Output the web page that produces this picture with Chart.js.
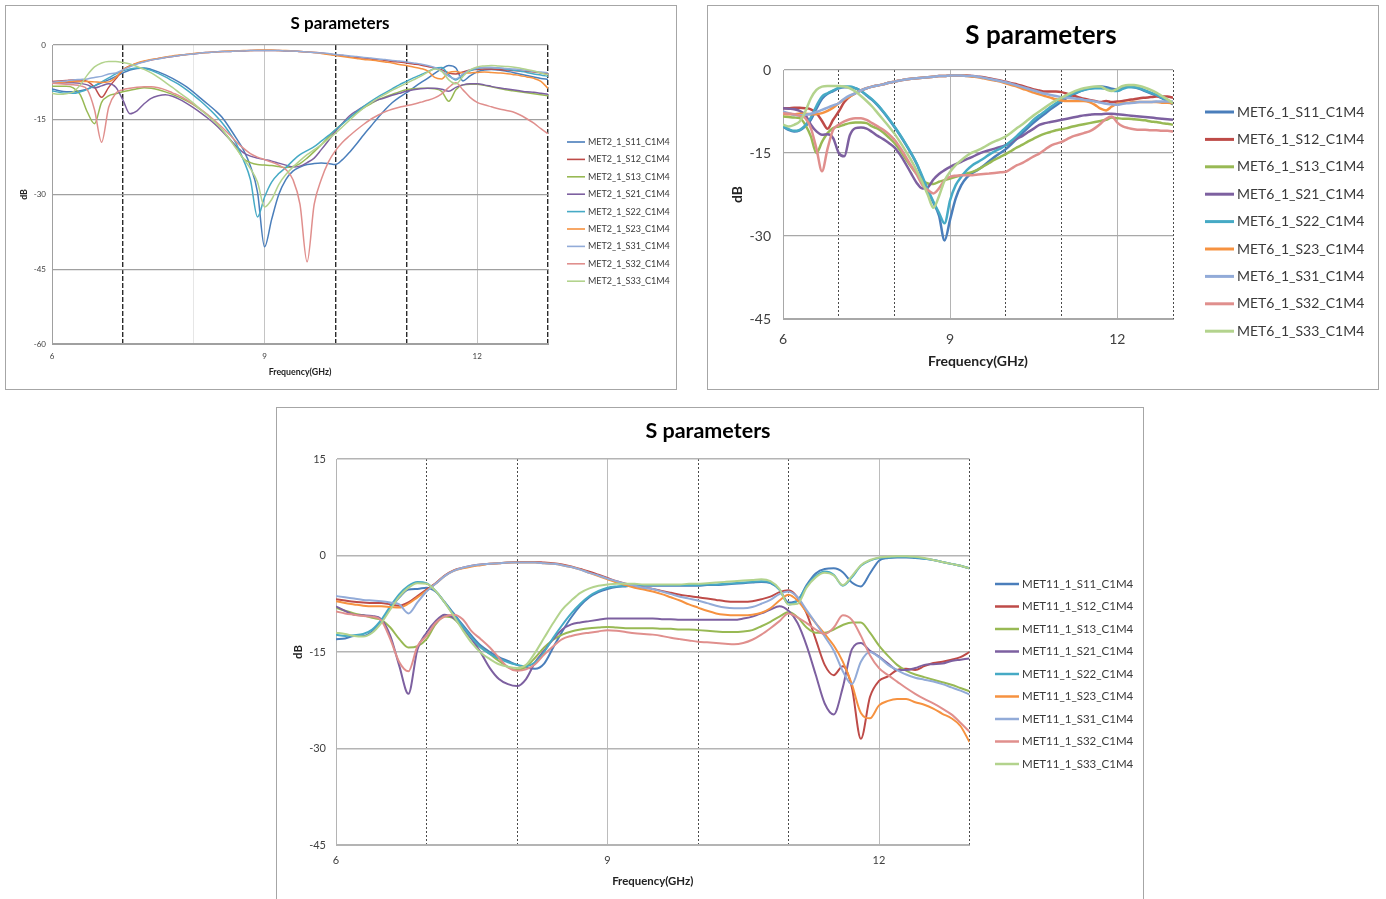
<!DOCTYPE html>
<html>
<head>
<meta charset="utf-8">
<title>S parameters</title>
<script src="https://cdn.jsdelivr.net/npm/chart.js@4.4.1/dist/chart.umd.min.js"></script>
<style>
  body { margin: 0; background: #fff; }
  .panel { position: absolute; border: 1px solid #a6a6a6; background: #fff; }
  .panel canvas { position: absolute; left: 0; top: 0; }
</style>
</head>
<body>
<div class="panel" style="left:5px; top:5px; width:670px; height:383px;"><canvas id="met2" width="670" height="383"></canvas></div>
<div class="panel" style="left:707px; top:5px; width:670px; height:383px;"><canvas id="met6" width="670" height="383"></canvas></div>
<div class="panel" style="left:276px; top:407px; width:866px; height:492px;"><canvas id="met11" width="866" height="492"></canvas></div>
<script>
// Frequency points (GHz), shared by all measurements
const freqGHz = [
  6.0, 6.1, 6.2, 6.3, 6.4, 6.5, 6.6, 6.7, 6.8, 6.9,
  7.0, 7.1, 7.2, 7.3, 7.4, 7.5, 7.6, 7.7, 7.8, 7.9,
  8.0, 8.1, 8.2, 8.3, 8.4, 8.5, 8.6, 8.7, 8.8, 8.9,
  9.0, 9.1, 9.2, 9.3, 9.4, 9.5, 9.6, 9.7, 9.8, 9.9,
  10.0, 10.1, 10.2, 10.3, 10.4, 10.5, 10.6, 10.7, 10.8, 10.9,
  11.0, 11.1, 11.2, 11.3, 11.4, 11.5, 11.6, 11.7, 11.8, 11.9,
  12.0, 12.1, 12.2, 12.3, 12.4, 12.5, 12.6, 12.7, 12.8, 12.9,
  13.0
];

const sParams = ['S11', 'S12', 'S13', 'S21', 'S22', 'S23', 'S31', 'S32', 'S33'];
const xTickLabels = [6, 9, 12];

// ---- MET2 (dB) ----
const met2S11 = [
  -8.8, -9.2, -9.4, -9.4, -9.2, -8.8, -8.2, -7.6, -7.0, -6.3,
  -5.6, -5.0, -4.7, -4.6, -4.9, -5.4, -6.0, -6.7, -7.5, -8.4,
  -9.5, -10.7, -11.9, -13.1, -14.5, -16.5, -18.7, -21.0, -24.3, -29.5,
  -40.5, -35.0, -30.0, -27.0, -25.3, -24.5, -24.0, -23.8, -23.7, -23.8,
  -24.0, -23.0, -21.5, -19.8, -18.0, -16.3, -14.6, -13.0, -11.6, -10.5,
  -9.6, -8.6, -7.6, -6.7, -5.7, -4.8, -4.1, -4.6, -7.2, -6.2,
  -5.4, -5.0, -4.9, -5.0, -5.2, -5.5, -5.8, -6.1, -6.4, -6.7,
  -6.9
];
const met2S12 = [
  -7.3, -7.2, -7.1, -7.0, -7.0, -7.3, -8.5, -10.5, -8.5, -6.8,
  -5.0, -4.2, -3.7, -3.3, -3.0, -2.7, -2.5, -2.3, -2.1, -1.9,
  -1.8, -1.6, -1.5, -1.4, -1.3, -1.3, -1.2, -1.2, -1.1, -1.1,
  -1.1, -1.1, -1.1, -1.2, -1.2, -1.3, -1.4, -1.5, -1.6, -1.8,
  -2.0, -2.1, -2.3, -2.5, -2.6, -2.8, -2.9, -3.1, -3.3, -3.4,
  -3.6, -3.8, -4.0, -4.3, -4.6, -5.0, -5.6, -5.8, -5.4, -5.0,
  -4.9, -4.8, -4.8, -4.9, -5.0, -5.1, -5.2, -5.3, -5.4, -5.6,
  -5.8
];
const met2S13 = [
  -8.3, -8.3, -8.3, -8.6, -10.0, -13.5, -15.8, -11.5, -10.2, -9.8,
  -9.4, -9.1, -8.8, -8.6, -8.7, -9.0, -9.4, -9.9, -10.5, -11.2,
  -12.0, -13.0, -14.1, -15.4, -17.0, -18.7, -20.6, -22.8, -23.6, -24.0,
  -24.1, -24.2, -24.4, -24.6, -24.4, -23.8, -22.7, -21.4, -20.0, -18.5,
  -17.0, -15.8, -14.6, -13.5, -12.6, -11.8, -11.0, -10.4, -9.9, -9.4,
  -9.0, -8.8, -8.7, -8.7, -8.8, -9.3, -11.3, -9.0, -8.0, -7.9,
  -7.9, -8.1, -8.4, -8.7, -9.0, -9.2, -9.4, -9.6, -9.8, -10.0,
  -10.2
];
const met2S21 = [
  -7.7, -7.7, -7.6, -7.6, -7.7, -8.0, -8.6, -8.2, -7.8, -8.5,
  -11.0, -13.8, -13.2, -11.8, -10.7, -10.2, -10.0, -10.3, -10.9, -11.7,
  -12.6, -13.6, -14.7, -15.9, -17.3, -18.8, -20.3, -21.6, -22.3, -22.7,
  -23.0, -23.3, -23.7, -24.1, -24.5, -24.3, -23.6, -22.7, -21.0, -19.2,
  -17.3, -15.7, -14.2, -13.2, -12.3, -11.6, -11.0, -10.6, -10.1, -9.7,
  -9.3, -9.0, -8.8, -8.7, -8.7, -8.9, -9.3, -8.5, -8.0, -7.8,
  -7.8, -8.0, -8.3, -8.6, -8.8, -9.0, -9.2, -9.4, -9.5, -9.7,
  -9.9
];
const met2S22 = [
  -9.2, -9.5, -9.7, -9.7, -9.4, -8.9, -8.2, -7.4, -6.6, -5.8,
  -5.2, -4.8, -4.6, -4.7, -5.1, -5.7, -6.4, -7.2, -8.0, -9.0,
  -10.1, -11.3, -12.6, -14.0, -15.6, -17.5, -19.8, -23.0, -27.0, -34.5,
  -30.5, -27.5, -25.8, -24.6, -23.2, -22.0, -21.2, -20.4, -19.3, -18.2,
  -17.0, -15.8, -14.6, -13.4, -12.3, -11.3, -10.4, -9.6, -8.8, -8.0,
  -7.3, -6.6, -6.0, -5.4, -4.7, -4.5, -6.0, -7.0, -6.0, -5.2,
  -4.7, -4.5, -4.5, -4.6, -4.8, -5.0, -5.2, -5.5, -5.8, -6.0,
  -6.3
];
const met2S23 = [
  -7.6, -7.5, -7.4, -7.3, -7.3, -7.3, -7.4, -7.5, -7.4, -6.5,
  -5.0, -4.2, -3.6, -3.2, -2.9, -2.7, -2.4, -2.2, -2.0, -1.9,
  -1.7, -1.6, -1.5, -1.4, -1.3, -1.2, -1.2, -1.1, -1.1, -1.0,
  -1.0, -1.0, -1.1, -1.1, -1.2, -1.3, -1.4, -1.5, -1.7, -1.9,
  -2.1, -2.3, -2.5, -2.7, -2.9, -3.0, -3.2, -3.4, -3.6, -3.9,
  -4.1, -4.4, -4.7, -5.2, -6.5, -6.8, -5.5, -5.3, -5.6, -5.6,
  -5.5, -5.4, -5.5, -5.6, -5.7, -5.9, -6.1, -6.4, -6.7, -7.3,
  -8.7
];
const met2S31 = [
  -7.5, -7.3, -7.2, -7.0, -6.9, -6.8, -6.5, -6.3, -5.8, -5.6,
  -5.0, -4.4, -3.8, -3.4, -3.0, -2.8, -2.5, -2.3, -2.1, -1.9,
  -1.8, -1.6, -1.5, -1.4, -1.3, -1.3, -1.2, -1.2, -1.1, -1.1,
  -1.1, -1.1, -1.1, -1.2, -1.2, -1.3, -1.4, -1.5, -1.6, -1.7,
  -1.9, -2.0, -2.2, -2.3, -2.5, -2.6, -2.8, -2.9, -3.1, -3.2,
  -3.4, -3.6, -3.8, -4.1, -4.5, -5.2, -6.3, -6.8, -5.8, -5.0,
  -4.6, -4.5, -4.5, -4.6, -4.7, -4.8, -4.9, -5.1, -5.3, -5.4,
  -5.6
];
const met2S32 = [
  -7.7, -7.8, -7.9, -8.0, -8.2, -9.0, -13.0, -19.5, -12.5, -9.7,
  -9.0, -8.7, -8.5, -8.4, -8.4, -8.6, -9.0, -9.6, -10.2, -11.0,
  -11.9, -12.9, -14.0, -15.2, -16.5, -17.9, -19.4, -20.7, -21.8, -22.5,
  -23.0, -23.5, -24.1, -25.0, -27.0, -32.0, -43.5, -32.0, -27.0, -23.5,
  -21.2, -19.5, -18.2, -17.0, -15.9, -14.9, -14.1, -13.4, -12.9, -12.5,
  -12.2, -11.9, -11.5, -11.1, -10.6, -9.8, -8.5, -7.6, -9.0, -10.5,
  -11.5, -12.0, -12.4, -12.8, -13.1, -13.4, -14.0, -14.8, -15.7, -16.8,
  -17.8
];
const met2S33 = [
  -9.7, -9.9, -9.8, -9.4, -8.0, -6.0, -4.4, -3.6, -3.3, -3.3,
  -3.5, -3.8, -4.3, -4.9, -5.6, -6.5, -7.5, -8.5, -9.6, -10.6,
  -11.7, -13.0, -14.2, -15.5, -17.0, -18.8, -20.8, -22.8, -24.8, -27.5,
  -32.5, -31.0, -28.0, -26.0, -24.5, -23.2, -22.0, -21.0, -20.0, -18.9,
  -17.7, -16.4, -15.1, -13.8, -12.6, -11.6, -10.7, -9.9, -9.1, -8.4,
  -7.7, -7.0, -6.3, -5.5, -4.8, -5.3, -7.0, -7.8, -6.3, -5.0,
  -4.4, -4.2, -4.1, -4.2, -4.3, -4.4, -4.6, -4.9, -5.2, -5.6,
  -6.0
];

// ---- MET6 (dB) ----
const met6S11 = [
  -10.2, -10.8, -11.1, -10.9, -10.2, -9.0, -7.0, -5.2, -4.3, -3.8,
  -3.3, -3.1, -3.1, -3.3, -3.8, -4.6, -5.4, -6.4, -7.6, -8.9,
  -10.3, -11.8, -13.4, -15.1, -17.0, -19.5, -22.0, -24.0, -26.3, -30.8,
  -27.0, -23.2, -20.8, -19.4, -18.6, -18.0, -17.3, -16.5, -15.7, -15.0,
  -14.3, -13.4, -12.4, -11.4, -10.4, -9.5, -8.7, -7.9, -7.1, -6.4,
  -5.7, -5.0, -4.5, -4.0, -3.6, -3.3, -3.1, -3.0, -3.1, -3.4,
  -3.5, -3.2, -3.0, -3.1, -3.4, -3.8, -4.2, -4.6, -5.1, -5.6,
  -6.2
];
const met6S12 = [
  -6.9, -6.9, -6.8, -6.8, -6.9, -7.1, -7.8, -9.2, -10.6, -9.0,
  -7.5, -5.8, -4.8, -4.2, -3.7, -3.3, -3.0, -2.8, -2.6, -2.3,
  -2.1, -1.9, -1.7, -1.6, -1.5, -1.4, -1.3, -1.2, -1.1, -1.1,
  -1.0, -1.0, -1.0, -1.0, -1.1, -1.2, -1.3, -1.5, -1.7, -1.9,
  -2.1, -2.4, -2.6, -2.9, -3.2, -3.5, -3.7, -3.9, -3.9, -3.9,
  -4.0, -4.3, -4.6, -4.9, -5.2, -5.4, -5.6, -5.8, -5.6, -5.8,
  -5.7, -5.6, -5.4, -5.3, -5.1, -5.0, -4.9, -4.8, -4.8, -4.8,
  -5.0
];
const met6S13 = [
  -8.4, -8.5, -8.6, -8.7, -9.9, -12.0, -15.0, -13.0, -11.4, -10.5,
  -10.2, -9.9, -9.6, -9.5, -9.5, -9.6, -10.2, -10.6, -11.3, -12.2,
  -13.2, -14.5, -16.0, -17.5, -18.8, -19.9, -20.5, -20.6, -20.2, -19.9,
  -19.6, -19.3, -19.0, -18.7, -18.4, -18.0, -17.4, -16.8, -16.2, -15.7,
  -15.2, -14.6, -14.0, -13.5, -12.9, -12.4, -11.9, -11.5, -11.2, -10.9,
  -10.7, -10.5, -10.2, -10.0, -9.8, -9.6, -9.4, -9.2, -9.0, -8.6,
  -8.7, -8.8, -8.8, -8.9, -9.0, -9.1, -9.3, -9.4, -9.6, -9.7,
  -9.9
];
const met6S21 = [
  -6.9, -7.0, -7.1, -7.4, -8.1, -9.9, -11.1, -11.7, -11.6, -12.3,
  -15.0, -15.6, -11.8, -10.5, -10.4, -10.6, -11.2, -11.9, -12.5, -13.2,
  -14.0, -15.3, -16.9, -18.7, -20.4, -21.4, -21.2, -19.8, -18.8, -18.1,
  -17.5, -17.0, -16.6, -16.1, -15.7, -15.2, -14.8, -14.5, -14.2, -13.9,
  -13.6, -13.0, -12.4, -11.9, -11.2, -10.6, -9.9, -9.6, -9.4, -9.2,
  -9.0, -8.8, -8.6, -8.4, -8.2, -8.1, -8.0, -8.0, -7.9, -7.9,
  -8.0, -8.1, -8.2, -8.3, -8.4, -8.5, -8.6, -8.7, -8.8, -8.9,
  -9.0
];
const met6S22 = [
  -10.2, -10.7, -11.0, -10.8, -10.0, -8.6, -6.5, -4.8, -4.2, -3.7,
  -3.2, -3.0, -3.0, -3.3, -3.8, -4.5, -5.3, -6.3, -7.5, -8.8,
  -10.2, -11.7, -13.3, -15.0, -16.9, -19.2, -21.6, -23.8, -25.8, -27.7,
  -23.5, -20.8, -19.3, -18.1, -17.2, -16.6, -16.0, -15.3, -14.7, -14.2,
  -13.6, -12.8, -11.9, -10.9, -10.0, -9.0, -8.2, -7.5, -6.7, -6.0,
  -5.4, -4.8, -4.3, -3.9, -3.6, -3.4, -3.3, -3.3, -3.4, -3.7,
  -3.8, -3.4, -3.1, -3.1, -3.3, -3.7, -4.1, -4.5, -5.0, -5.5,
  -6.0
];
const met6S23 = [
  -7.9, -8.0, -8.0, -7.9, -7.9, -8.0, -8.0, -7.8, -7.4, -6.8,
  -6.0, -5.3, -4.8, -4.2, -3.7, -3.3, -3.0, -2.8, -2.6, -2.3,
  -2.1, -1.9, -1.7, -1.6, -1.5, -1.4, -1.3, -1.2, -1.1, -1.1,
  -1.0, -1.0, -1.0, -1.1, -1.2, -1.3, -1.5, -1.7, -1.9, -2.1,
  -2.4, -2.7, -3.0, -3.4, -3.7, -4.1, -4.4, -4.7, -5.0, -5.3,
  -5.5, -5.6, -5.6, -5.6, -5.6, -5.8, -6.3, -7.0, -7.3, -6.6,
  -6.1, -6.0, -5.9, -5.8, -5.8, -5.8, -5.8, -5.8, -5.9, -5.9,
  -6.0
];
const met6S31 = [
  -7.5, -7.8, -8.1, -8.2, -8.1, -7.9, -7.6, -7.2, -6.8, -6.4,
  -6.0, -5.2, -4.6, -4.2, -3.7, -3.3, -3.0, -2.8, -2.6, -2.3,
  -2.1, -1.9, -1.7, -1.6, -1.5, -1.4, -1.3, -1.2, -1.1, -1.1,
  -1.0, -1.0, -1.0, -1.1, -1.1, -1.2, -1.4, -1.6, -1.8, -2.0,
  -2.2, -2.5, -2.8, -3.1, -3.4, -3.7, -4.0, -4.3, -4.5, -4.7,
  -4.9, -5.0, -5.1, -5.2, -5.4, -5.5, -5.7, -5.9, -6.1, -6.2,
  -6.3, -6.1, -6.0, -5.9, -5.8, -5.8, -5.8, -5.7, -5.7, -5.7,
  -5.7
];
const met6S32 = [
  -7.8, -7.9, -8.0, -8.3, -8.7, -10.5, -14.2, -18.3, -14.2, -10.8,
  -9.9, -9.3, -8.9, -8.7, -8.7, -9.0, -9.6, -10.2, -10.8, -11.6,
  -12.6, -14.0, -15.6, -17.3, -18.9, -20.8, -21.7, -22.3, -21.4, -19.9,
  -19.3, -19.1, -19.0, -19.0, -19.0, -18.9, -18.8, -18.7, -18.6, -18.5,
  -18.4, -17.8, -17.2, -16.8, -16.2, -15.6, -15.1, -14.4, -13.7, -13.3,
  -13.0, -12.5, -12.0, -11.7, -11.4, -11.1, -10.5, -9.7, -8.8, -8.4,
  -9.5, -10.2, -10.5, -10.7, -10.8, -10.8, -10.9, -10.9, -11.0, -11.0,
  -11.1
];
const met6S33 = [
  -9.9, -10.2, -9.9, -9.3, -7.5, -5.1, -3.6, -3.0, -2.9, -2.9,
  -2.9, -3.0, -3.3, -3.9, -4.7, -5.6, -6.6, -7.8, -9.0, -10.2,
  -11.5, -13.0, -14.6, -16.3, -18.2, -20.3, -22.6, -24.9, -22.8, -20.0,
  -18.4, -17.2, -16.3, -15.5, -14.9, -14.5, -14.0, -13.4, -12.9, -12.5,
  -12.0, -11.3, -10.5, -9.8, -9.0, -8.2, -7.5, -6.8, -6.1, -5.5,
  -5.0, -4.5, -4.0, -3.6, -3.3, -3.1, -3.0, -3.0, -3.5, -3.8,
  -3.4, -2.9, -2.7, -2.7, -2.9, -3.2, -3.6, -4.1, -4.7, -5.3,
  -6.0
];

// ---- MET11 (dB) ----
const met11S11 = [
  -13.0, -12.9, -12.5, -12.5, -11.8, -10.2, -8.2, -6.5, -5.3, -5.2,
  -5.0, -5.6, -7.2, -9.0, -10.8, -12.5, -14.0, -15.0, -15.8, -16.4,
  -17.0, -17.4, -17.6, -16.8, -14.3, -11.8, -9.6, -7.8, -6.5, -5.7,
  -5.2, -4.9, -4.8, -4.7, -4.7, -4.7, -4.7, -4.7, -4.7, -4.7,
  -4.7, -4.6, -4.6, -4.5, -4.4, -4.3, -4.2, -4.1, -4.3, -5.3,
  -7.3, -7.0, -4.6, -2.8, -2.1, -2.0, -2.6, -4.2, -4.8, -2.8,
  -0.8, -0.4, -0.3, -0.3, -0.4, -0.5, -0.7, -1.0, -1.3, -1.6,
  -2.0
];
const met11S12 = [
  -6.8, -7.0, -7.2, -7.3, -7.4, -7.4, -7.6, -7.8, -7.3, -6.3,
  -5.3, -4.3, -3.1, -2.3, -1.9, -1.6, -1.4, -1.3, -1.2, -1.1,
  -1.0, -1.0, -1.0, -1.1, -1.2, -1.4, -1.7, -2.1, -2.5, -3.0,
  -3.5, -4.0, -4.4, -4.7, -5.0, -5.2, -5.5, -5.8, -6.1, -6.3,
  -6.5, -6.7, -6.9, -7.1, -7.2, -7.2, -7.1, -6.8, -6.4, -5.7,
  -5.4, -6.5, -9.0, -13.0, -17.0, -18.6, -17.2, -20.5, -28.5, -22.0,
  -19.5, -18.8, -17.8, -17.6, -17.8, -17.2, -16.7, -16.5, -16.2, -15.8,
  -15.0
];
const met11S13 = [
  -8.1, -8.6, -9.0, -9.3, -9.7, -10.0, -11.2, -13.0, -14.3, -14.1,
  -13.0, -10.7, -9.5, -9.8, -11.3, -13.0, -14.3, -15.3, -16.4, -17.3,
  -17.8, -17.3, -15.9, -14.3, -13.1, -12.3, -11.8, -11.5, -11.3, -11.2,
  -11.1, -11.2, -11.3, -11.3, -11.3, -11.3, -11.4, -11.4, -11.5, -11.5,
  -11.6, -11.7, -11.8, -11.9, -11.9, -11.8, -11.6, -11.0, -10.3, -9.5,
  -8.8, -9.6, -11.2, -12.0, -12.0, -11.5, -10.8, -10.4, -10.4, -12.0,
  -14.0, -15.6, -17.0, -17.9, -18.5, -18.9, -19.3, -19.7, -20.1, -20.6,
  -21.1
];
const met11S21 = [
  -7.9, -8.6, -9.2, -9.3, -9.4, -9.9, -12.5, -17.2, -21.5, -14.6,
  -12.0, -10.2, -9.2, -9.7, -11.2, -13.0, -15.1, -17.5, -19.2, -20.0,
  -20.3, -19.2, -16.6, -14.8, -13.0, -11.5, -10.7, -10.4, -10.2, -10.0,
  -9.8, -9.8, -9.8, -9.8, -9.8, -9.8, -9.9, -9.9, -10.0, -10.0,
  -10.0, -10.0, -10.0, -10.0, -10.0, -9.8, -9.5, -9.0, -8.4, -7.9,
  -8.6, -10.5, -14.0, -18.5, -23.0, -24.7, -20.5, -14.6, -13.6, -14.8,
  -15.7, -16.8, -17.8, -17.8, -17.5, -17.0, -16.9, -16.8, -16.4, -16.2,
  -16.0
];
const met11S22 = [
  -12.3, -12.5, -12.4, -12.2, -11.5, -10.0, -7.9, -6.0, -4.7, -4.1,
  -4.3, -5.5, -7.3, -9.2, -11.0, -12.8, -14.3, -15.3, -16.0, -16.6,
  -17.0, -17.2, -16.6, -15.0, -12.8, -10.8, -9.0, -7.5, -6.3, -5.5,
  -5.0, -4.8, -4.7, -4.6, -4.6, -4.6, -4.6, -4.6, -4.6, -4.6,
  -4.6, -4.5, -4.5, -4.4, -4.3, -4.2, -4.1, -4.0, -4.2, -5.3,
  -7.6, -7.0, -4.8, -3.2, -2.5, -3.0, -4.7, -3.4, -1.6, -0.8,
  -0.4, -0.3, -0.2, -0.2, -0.3, -0.5, -0.7, -1.0, -1.3, -1.6,
  -2.0
];
const met11S23 = [
  -7.1, -7.4, -7.6, -7.8, -7.9, -7.9, -8.0, -8.1, -7.5, -6.5,
  -5.5, -4.4, -3.2, -2.4, -2.0, -1.7, -1.5, -1.3, -1.2, -1.1,
  -1.1, -1.1, -1.1, -1.2, -1.3, -1.5, -1.8, -2.2, -2.7, -3.2,
  -3.7, -4.2, -4.6, -5.0, -5.3, -5.6, -6.0, -6.5, -7.0, -7.6,
  -8.1, -8.6, -9.0, -9.2, -9.3, -9.3, -9.2, -8.9, -8.2, -7.0,
  -6.1, -7.0, -8.8, -10.5, -12.2, -14.0, -16.5, -20.0, -24.5, -25.3,
  -23.3, -22.6, -22.3, -22.3, -22.8, -23.2, -23.8, -24.6, -25.3, -26.5,
  -29.0
];
const met11S31 = [
  -6.3, -6.5, -6.7, -6.9, -7.0, -7.1, -7.3, -7.6, -9.0, -7.3,
  -5.6, -4.4, -3.2, -2.4, -1.9, -1.6, -1.4, -1.3, -1.2, -1.1,
  -1.1, -1.1, -1.1, -1.2, -1.3, -1.5, -1.8, -2.2, -2.7, -3.1,
  -3.6, -4.0, -4.4, -4.7, -5.0, -5.2, -5.6, -6.0, -6.4, -6.7,
  -7.0, -7.4, -7.8, -8.1, -8.2, -8.2, -8.0, -7.5, -6.9, -6.0,
  -5.6, -6.5, -8.5, -10.5, -12.6, -14.8, -18.0, -20.0, -16.5, -15.0,
  -15.8, -17.0, -17.8, -18.5, -19.0, -19.3, -19.6, -20.0, -20.5, -21.0,
  -21.6
];
const met11S32 = [
  -8.7, -9.0, -9.2, -9.4, -9.5, -10.1, -13.0, -16.6, -18.0, -14.1,
  -12.5, -10.5, -9.5, -9.2, -9.9, -11.8, -13.0, -14.3, -15.9, -17.4,
  -17.9, -17.7, -16.9, -15.4, -14.1, -13.0, -12.5, -12.2, -12.0, -11.8,
  -11.6, -11.7, -11.9, -12.1, -12.2, -12.3, -12.5, -12.8, -13.0, -13.2,
  -13.4, -13.5, -13.6, -13.7, -13.8, -13.6, -13.1, -12.3, -11.3, -10.2,
  -9.0, -9.6, -10.5, -11.5, -12.2, -11.2, -9.3, -10.0, -12.5, -15.5,
  -17.5, -18.6, -19.6, -20.6, -21.5, -22.3, -23.0, -23.8, -24.7, -26.0,
  -27.4
];
const met11S33 = [
  -12.0, -12.2, -12.5, -12.6, -12.0, -10.5, -8.4, -6.4, -5.0, -4.3,
  -4.4, -5.5, -7.3, -9.4, -11.6, -13.6, -15.1, -16.1, -16.9, -17.3,
  -17.5, -17.0, -15.1, -12.8, -10.5, -8.4, -7.0, -5.8, -5.1, -4.7,
  -4.5, -4.4, -4.4, -4.4, -4.5, -4.5, -4.5, -4.5, -4.5, -4.4,
  -4.4, -4.3, -4.2, -4.1, -4.0, -3.9, -3.8, -3.7, -4.0, -5.2,
  -7.6, -7.5, -5.0, -3.4, -2.7, -3.1, -4.6, -3.2, -1.5, -0.7,
  -0.3, -0.2, -0.1, -0.1, -0.2, -0.4, -0.7, -1.0, -1.3, -1.6,
  -2.0
];

const seriesColors = ['#4a7ebb', '#be4b48', '#98b954', '#7d60a0', '#46aac5', '#f69240', '#92abd8', '#e08f8d', '#b3d38d'];
const FONT = 'Lato, "Open Sans", sans-serif';

// Title and right-hand legend, placed at fixed spots inside each panel
const panelDecor = {
  id: 'panelDecor',
  afterDraw(chart, args, o) {
    const ctx = chart.ctx;
    ctx.save();
    ctx.fillStyle = '#000';
    ctx.font = `bold ${o.titleSize}px ${FONT}`;
    ctx.textAlign = 'center';
    ctx.textBaseline = 'middle';
    ctx.fillText(o.title, o.titleX, o.titleY);

    ctx.font = `${o.legendSize}px ${FONT}`;
    ctx.textAlign = 'left';
    chart.data.datasets.forEach((ds, i) => {
      const y = o.legendY + i * o.legendStep;
      ctx.strokeStyle = ds.borderColor;
      ctx.lineWidth = o.legendLine;
      ctx.beginPath();
      ctx.moveTo(o.legendX, y);
      ctx.lineTo(o.legendX + o.legendLen, y);
      ctx.stroke();
      ctx.fillStyle = '#3a3a3a';
      ctx.fillText(ds.label, o.legendX + o.legendLen + 3, y);
    });
    ctx.restore();
  }
};

function buildChart(id, spec) {
  const canvas = document.getElementById(id);
  const W = canvas.width, H = canvas.height;
  const p = spec.plot;

  const datasets = spec.series.map((vals, i) => ({
    label: spec.prefix + sParams[i] + '_C1M4',
    data: vals.map((v, k) => ({ x: freqGHz[k], y: v })),
    borderColor: seriesColors[i],
    backgroundColor: seriesColors[i],
    borderWidth: spec.lineWidth,
    pointRadius: 0,
    cubicInterpolationMode: 'monotone',
    fill: false,
    order: -i
  }));

  const vLine = v => {
    if (spec.markLines.includes(v)) return spec.markColor;
    if (spec.faintLines.includes(v)) return '#e6e6e6';
    return spec.vGridColor;
  };

  return new Chart(canvas, {
    type: 'line',
    data: { datasets },
    options: {
      responsive: false,
      animation: false,
      devicePixelRatio: 1,
      events: [],
      layout: { padding: { left: 0, top: p.top, right: W - p.right, bottom: 0 } },
      plugins: {
        legend: { display: false },
        title: { display: false },
        tooltip: { enabled: false },
        panelDecor: spec.decor
      },
      scales: {
        x: {
          type: 'linear',
          min: 6,
          max: 13,
          afterFit: s => { s.height = H - p.bottom; },
          ticks: {
            stepSize: 1,
            autoSkip: false,
            maxRotation: 0,
            padding: spec.xTickPad,
            color: '#404040',
            font: { family: FONT, size: spec.tickSize },
            callback: v => xTickLabels.includes(v) ? String(v) : ''
          },
          grid: {
            drawTicks: false,
            color: c => vLine(c.tick ? c.tick.value : 0),
            lineWidth: c => (c.tick && spec.markLines.includes(c.tick.value)) ? spec.markWidth : 1
          },
          border: {
            color: spec.hGridColor,
            width: 1,
            dash: c => (c.tick && spec.markLines.includes(c.tick.value)) ? spec.markDash : []
          },
          title: {
            display: true,
            text: 'Frequency(GHz)',
            color: '#222',
            font: { family: FONT, size: spec.axisTitleSize, weight: 'bold' },
            padding: { top: 0, bottom: spec.xTitlePad }
          }
        },
        y: {
          min: spec.yMin,
          max: spec.yMax,
          afterFit: s => { s.width = p.left; },
          ticks: {
            stepSize: 15,
            padding: spec.yTickPad,
            color: '#404040',
            font: { family: FONT, size: spec.tickSize }
          },
          grid: { drawTicks: false, color: spec.hGridColor, lineWidth: spec.hGridWidth },
          border: { color: spec.hGridColor, width: 1 },
          title: {
            display: true,
            text: 'dB',
            color: '#222',
            font: { family: FONT, size: spec.axisTitleSize, weight: 'bold' },
            padding: { top: spec.yTitlePad, bottom: 0 }
          }
        }
      }
    },
    plugins: [panelDecor]
  });
}

buildChart('met2', {
  prefix: 'MET2_1_',
  series: [met2S11, met2S12, met2S13, met2S21, met2S22, met2S23, met2S31, met2S32, met2S33],
  plot: { left: 46, right: 542, top: 39, bottom: 338 },
  yMin: -60, yMax: 0,
  lineWidth: 1.5,
  tickSize: 8, xTickPad: 8, yTickPad: 6,
  axisTitleSize: 8.8, xTitlePad: 11.7, yTitlePad: 12.9,
  hGridColor: '#a0a0a0', hGridWidth: 1.2, vGridColor: '#c4c4c4',
  markLines: [7, 10, 11, 13], faintLines: [8], markColor: '#2a2a2a', markWidth: 1.4, markDash: [5, 2],
  decor: {
    title: 'S parameters', titleX: 334, titleY: 18, titleSize: 17,
    legendX: 561, legendY: 136, legendStep: 17.4, legendLen: 18, legendLine: 1.6, legendSize: 9
  }
});

buildChart('met6', {
  prefix: 'MET6_1_',
  series: [met6S11, met6S12, met6S13, met6S21, met6S22, met6S23, met6S31, met6S32, met6S33],
  plot: { left: 75, right: 465, top: 64, bottom: 313 },
  yMin: -45, yMax: 0,
  lineWidth: 2.5,
  tickSize: 14, xTickPad: 12, yTickPad: 12,
  axisTitleSize: 14, xTitlePad: 18.7, yTitlePad: 20.6,
  hGridColor: '#a8a8a8', hGridWidth: 1.2, vGridColor: '#b4b4b4',
  markLines: [7, 8, 10, 11, 13], faintLines: [], markColor: '#4a4a4a', markWidth: 1, markDash: [2, 2],
  decor: {
    title: 'S parameters', titleX: 333, titleY: 30, titleSize: 26,
    legendX: 497, legendY: 106, legendStep: 27.4, legendLen: 29, legendLine: 3, legendSize: 14
  }
});

buildChart('met11', {
  prefix: 'MET11_1_',
  series: [met11S11, met11S12, met11S13, met11S21, met11S22, met11S23, met11S31, met11S32, met11S33],
  plot: { left: 59, right: 692.5, top: 51, bottom: 437 },
  yMin: -45, yMax: 15,
  lineWidth: 2,
  tickSize: 11, xTickPad: 9, yTickPad: 10,
  axisTitleSize: 11.4, xTitlePad: 12.2, yTitlePad: 14.4,
  hGridColor: '#b4b4b4', hGridWidth: 1.5, vGridColor: '#bcbcbc',
  markLines: [7, 8, 10, 11, 13], faintLines: [], markColor: '#4a4a4a', markWidth: 1, markDash: [2, 2],
  decor: {
    title: 'S parameters', titleX: 431, titleY: 23, titleSize: 21.5,
    legendX: 718, legendY: 176, legendStep: 22.5, legendLen: 24, legendLine: 2.5, legendSize: 11.5
  }
});
</script>
</body>
</html>
